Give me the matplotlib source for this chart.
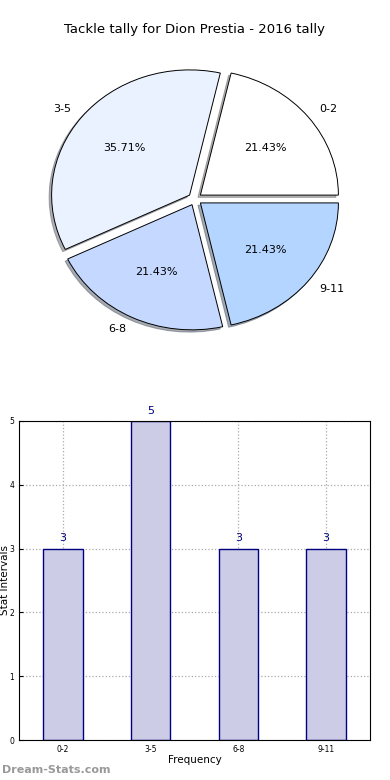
import matplotlib
matplotlib.use("Agg")
import matplotlib.pyplot as plt

labels = ['0-2', '3-5', '6-8', '9-11']
counts = [3, 5, 3, 3]
pie_colors = ['#ffffff', '#ebf2ff', '#c5d8ff', '#b3d5ff']

fig = plt.figure(figsize=(3.9, 7.8), dpi=100)

# pie (old-style, not forced round)
ax1 = fig.add_axes([22.5 / 390, 424.5 / 780, 345 / 390, 313 / 780])
ax1.pie(counts, labels=labels, colors=pie_colors, explode=[0.05] * 4,
        autopct='%.2f%%', shadow={'ox': -0.013, 'oy': -0.013, 'shade': 0.6},
        startangle=0,
        wedgeprops={'edgecolor': 'black', 'linewidth': 0.7},
        textprops={'fontsize': 8})
ax1.set_xlim(-1.25, 1.25)
ax1.set_ylim(-1.25, 1.25)
ax1.set_aspect('auto')
fig.text(0.5, 1 - 30 / 780, 'Tackle tally for Dion Prestia - 2016 tally',
         ha='center', va='center', fontsize=9.5)

# bars
ax2 = fig.add_axes([19 / 390, 40 / 780, 351 / 390, 319 / 780])
x = range(len(labels))
ax2.bar(x, counts, width=0.45, color='#ccccе6'.replace('е', 'e'),
        edgecolor='#000080', linewidth=1, zorder=2)
for xi, c in zip(x, counts):
    ax2.text(xi, c + 0.08, str(c), ha='center', va='bottom',
             color='#000080', fontsize=8)
ax2.set_xlim(-0.5, 3.5)
ax2.set_ylim(0, 5)
ax2.set_xticks(list(x))
ax2.set_xticklabels(labels, fontsize=5.5)
ax2.set_yticks(range(6))
ax2.tick_params(axis='y', labelsize=5.5, direction='in', length=3)
ax2.tick_params(axis='x', direction='in', length=3)
ax2.grid(True, linestyle=':', color='#aaaaaa', linewidth=0.9, zorder=0)
ax2.set_axisbelow(True)
ax2.set_xlabel('Frequency', fontsize=7.5, labelpad=1)
fig.text(5 / 390, 1 - 580 / 780, 'Stat Intervals', rotation=90,
         ha='center', va='center', fontsize=7.5)

fig.text(2 / 390, 1 - 770 / 780, 'Dream-Stats.com', ha='left', va='center',
         fontsize=8, color='#999999', fontweight='bold')

fig.savefig('out.png', dpi=100)
